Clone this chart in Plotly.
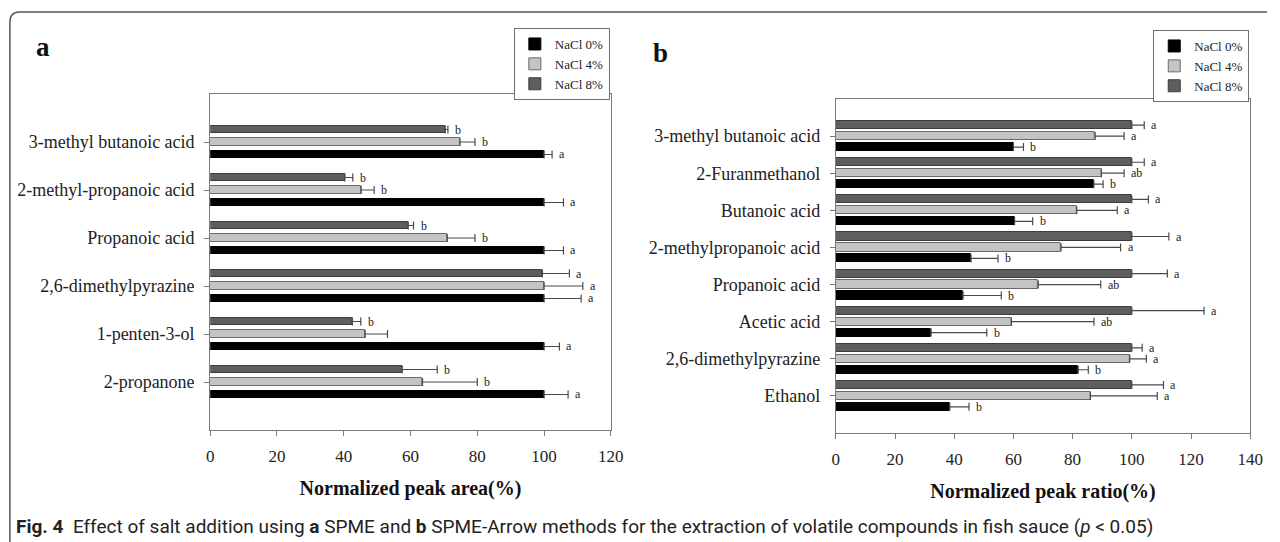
import plotly.graph_objects as go

# ---------------- data ----------------
compounds_a = ["3-methyl butanoic acid", "2-methyl-propanoic acid", "Propanoic acid",
               "2,6-dimethylpyrazine", "1-penten-3-ol", "2-propanone"]
a_nacl0 = [100, 100, 100, 100, 100, 100]
a_nacl0_err = [2.4, 5.8, 5.8, 11.1, 4.6, 7.2]
a_nacl4 = [74.8, 45.2, 71.0, 100, 46.4, 63.6]
a_nacl4_err = [4.5, 3.9, 8.3, 11.6, 6.7, 16.4]
a_nacl8 = [70.4, 40.3, 59.3, 99.5, 42.6, 57.5]
a_nacl8_err = [0.8, 2.4, 1.6, 8.1, 2.5, 10.5]
a_let0 = ["a", "a", "a", "a", "a", "a"]
a_let4 = ["b", "b", "b", "a", "", "b"]
a_let8 = ["b", "b", "b", "a", "b", "b"]

compounds_b = ["3-methyl butanoic acid", "2-Furanmethanol", "Butanoic acid",
               "2-methylpropanoic acid", "Propanoic acid", "Acetic acid",
               "2,6-dimethylpyrazine", "Ethanol"]
b_nacl0 = [60.0, 87.2, 60.4, 45.7, 43.0, 32.2, 81.9, 38.5]
b_nacl0_err = [3.4, 3.1, 6.1, 9.1, 12.9, 18.8, 3.4, 6.5]
b_nacl4 = [87.6, 89.7, 81.4, 76.1, 68.4, 59.3, 99.3, 86.0]
b_nacl4_err = [9.8, 7.7, 13.7, 20.1, 21.1, 27.9, 5.6, 22.6]
b_nacl8 = [100, 100, 100, 100, 100, 100, 100, 100]
b_nacl8_err = [4.2, 4.2, 5.6, 12.5, 12.0, 24.4, 3.5, 10.7]
b_let0 = ["b", "b", "b", "b", "b", "b", "b", "b"]
b_let4 = ["a", "ab", "a", "a", "ab", "ab", "a", "a"]
b_let8 = ["a", "a", "a", "a", "a", "a", "a", "a"]

series_names = ["NaCl 0%", "NaCl 4%", "NaCl 8%"]
x_ticks_a = [0, 20, 40, 60, 80, 100, 120]
x_ticks_b = [0, 20, 40, 60, 80, 100, 120, 140]

# ---------------- styling ----------------
W, H = 1280, 542
SERIF = "Liberation Serif"
fills = ["#000000", "#c4c4c4", "#5e5e5e"]
lines = ["#000000", "#6a6a6a", "#3c3c3c"]
ERR_COLOR = "#4a4a4a"


def px_x(px):
    return px / W


def px_y(py):
    return 1 - py / H


fig = go.Figure()


def add_panel(cats, vals, errs, lets, xaxis, yaxis, legend, slot, bw):
    # reversed y axis: index 0 at top; 8% on top, 0% at bottom within a group
    centers = [slot, 0.0, -slot]
    idx = list(range(len(cats)))
    for k in range(3):
        fig.add_trace(go.Bar(
            y=idx, x=vals[k], orientation="h", name=series_names[k],
            marker=dict(color=fills[k], line=dict(color=lines[k], width=1)),
            width=bw, offset=centers[k] - bw / 2,
            error_x=dict(type="data", array=errs[k], symmetric=False, arrayminus=[0] * len(cats),
                         color=ERR_COLOR, thickness=1.2, width=4),
            xaxis=xaxis, yaxis=yaxis, legend=legend, showlegend=True,
        ))
        for i, c in enumerate(cats):
            if lets[k][i]:
                fig.add_annotation(
                    x=vals[k][i] + errs[k][i], y=i + centers[k], xref=xaxis, yref=yaxis,
                    text=lets[k][i], showarrow=False, xanchor="left", yanchor="middle",
                    xshift=5, font=dict(family=SERIF, size=12, color="#222"))


add_panel(compounds_a, [a_nacl0, a_nacl4, a_nacl8], [a_nacl0_err, a_nacl4_err, a_nacl8_err],
          [a_let0, a_let4, a_let8], "x", "y", "legend", 0.26, 0.16)
add_panel(compounds_b, [b_nacl0, b_nacl4, b_nacl8], [b_nacl0_err, b_nacl4_err, b_nacl8_err],
          [b_let0, b_let4, b_let8], "x2", "y2", "legend2", 0.295, 0.22)

axis_common = dict(showline=True, linecolor="#7a7a7a", linewidth=1, mirror=True,
                   showgrid=False, zeroline=False, ticks="outside", ticklen=5,
                   tickcolor="#7a7a7a")
xtick_font = dict(family=SERIF, size=17, color="#222")
ytick_font = dict(family=SERIF, size=18, color="#222")
title_font = dict(family=SERIF, size=20, color="#111", weight="bold")
legend_common = dict(bordercolor="#6f6f6f", borderwidth=1, bgcolor="white",
                     font=dict(family=SERIF, size=13, color="#222"),
                     traceorder="normal", tracegroupgap=0)

fig.update_layout(
    width=W, height=H, margin=dict(l=0, r=0, t=0, b=0),
    paper_bgcolor="white", plot_bgcolor="white",
    font=dict(family=SERIF, color="#222"),
    barmode="overlay", bargap=0,
    xaxis=dict(domain=[px_x(209), px_x(615)], range=[0, 120], tickvals=x_ticks_a,
               anchor="y", ticklabelstandoff=6, tickfont=xtick_font,
               title=dict(text="Normalized peak area(%)", standoff=15, font=title_font),
               **axis_common),
    yaxis=dict(domain=[px_y(430), px_y(94)], range=[len(compounds_a), -1],
               tickvals=list(range(len(compounds_a))), ticktext=compounds_a,
               anchor="x", ticklabelstandoff=6, tickfont=ytick_font, **axis_common),
    xaxis2=dict(domain=[px_x(843), px_x(1263)], range=[0, 140], tickvals=x_ticks_b,
                anchor="y2", ticklabelstandoff=6, tickfont=xtick_font,
                title=dict(text="Normalized peak ratio(%)", standoff=15, font=title_font),
                **axis_common),
    yaxis2=dict(domain=[px_y(433), px_y(99)], range=[len(compounds_b), -1],
                tickvals=list(range(len(compounds_b))), ticktext=compounds_b,
                anchor="x2", ticklabelstandoff=6, tickfont=ytick_font, **axis_common),
    legend=dict(x=px_x(614), xanchor="right", y=px_y(28), yanchor="top", **legend_common),
    legend2=dict(x=px_x(1262), xanchor="right", y=px_y(30), yanchor="top", **legend_common),
    showlegend=True,
)

# panel letters
fig.add_annotation(x=px_x(30), y=px_y(47), xref="paper", yref="paper", text="<b>a</b>",
                   showarrow=False, xanchor="left", yanchor="middle",
                   font=dict(family=SERIF, size=27, color="#111"))
fig.add_annotation(x=px_x(656), y=px_y(53), xref="paper", yref="paper", text="<b>b</b>",
                   showarrow=False, xanchor="left", yanchor="middle",
                   font=dict(family=SERIF, size=27, color="#111"))

# caption
fig.add_annotation(
    x=px_x(10), y=px_y(526), xref="paper", yref="paper", showarrow=False,
    xanchor="left", yanchor="middle",
    text="<b>Fig. 4</b>  Effect of salt addition using <b>a</b> SPME and <b>b</b> SPME-Arrow methods "
         "for the extraction of volatile compounds in fish sauce (<i>p</i> < 0.05)",
    font=dict(family="Roboto", size=19, color="#222"))

# figure frame (rounded top-left corner)
r = 10
x0, y0 = px_x(6), px_y(12)
fig.add_shape(type="path", xref="paper", yref="paper",
              path=f"M {x0},0 L {x0},{px_y(12 + r)} Q {x0},{y0} {px_x(6 + r)},{y0} L 1,{y0}",
              line=dict(color="#555", width=1.5))

fig.write_html("out.html", config={"displayModeBar": False},
               post_script="document.body.style.margin='0px';document.body.style.overflow='hidden';")
